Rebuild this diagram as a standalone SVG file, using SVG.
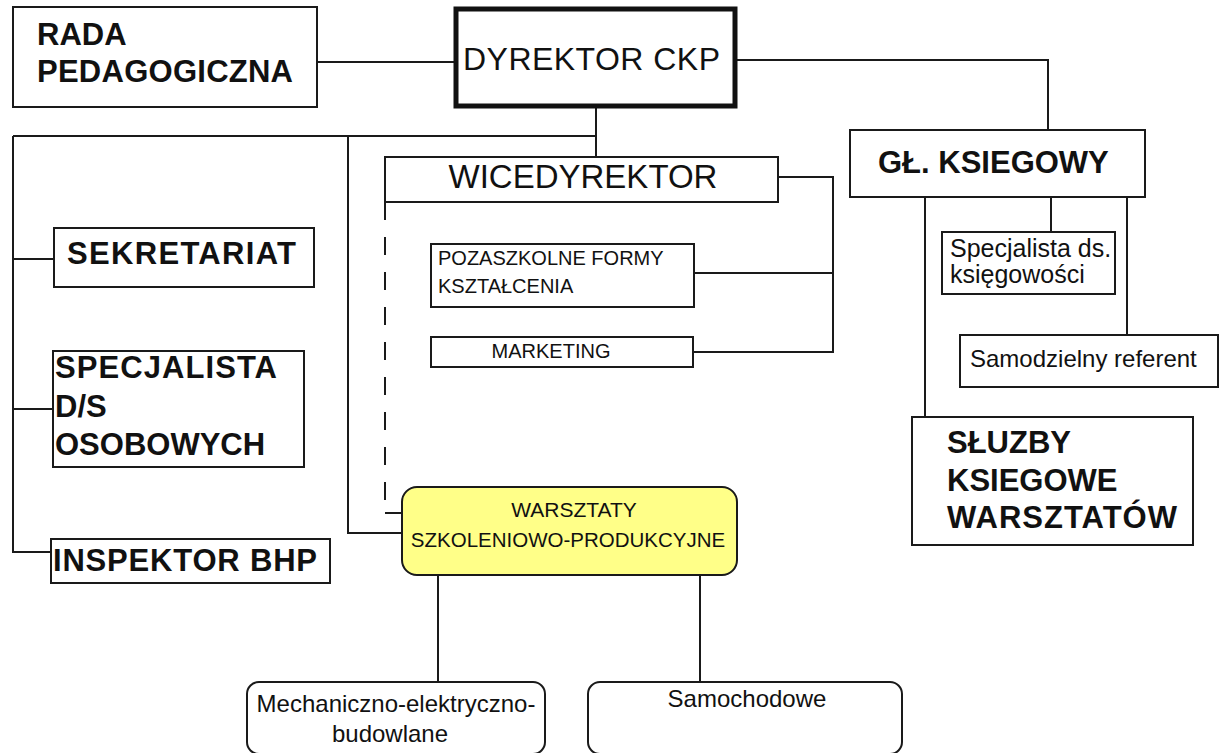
<svg xmlns="http://www.w3.org/2000/svg" width="1229" height="753" viewBox="0 0 1229 753">
<style>
.box{fill:#fff;stroke:#1a1a1a;stroke-width:2}
.thick{fill:#fff;stroke:#111;stroke-width:5}
.rnd{fill:#fff;stroke:#1a1a1a;stroke-width:2}
.yel{fill:#ffff88;stroke:#1a1a1a;stroke-width:2}
.ln{fill:none;stroke:#1a1a1a;stroke-width:2}
.dash{fill:none;stroke:#1a1a1a;stroke-width:2;stroke-dasharray:18 17}
text{font-family:"Liberation Sans",Arial,sans-serif;fill:#111}
.b{font-weight:bold;font-size:31px}
.big{font-size:32px}
.m{font-size:20px}
.s{font-size:24px}
</style>
<rect width="1229" height="753" fill="#fff"/>
<g id="connectors">
<path class="ln" d="M317 62H454"/>
<path class="ln" d="M737 60H1048V130"/>
<path class="ln" d="M596 107V157"/>
<path class="ln" d="M13 136H596"/>
<path class="ln" d="M13 136V552H51"/>
<path class="ln" d="M13 259H54"/>
<path class="ln" d="M13 409H53"/>
<path class="ln" d="M348 136V533H402"/>
<path class="dash" d="M385 202V513"/>
<path class="ln" d="M385 513H402"/>
<path class="ln" d="M778 177H833V352H693"/>
<path class="ln" d="M694 273H833"/>
<path class="ln" d="M925 197V417"/>
<path class="ln" d="M1051 197V232"/>
<path class="ln" d="M1127 197V335"/>
<path class="ln" d="M438 575V682"/>
<path class="ln" d="M700 575V682"/>
</g>
<g id="rada">
<rect class="box" x="13" y="7" width="304" height="100"/>
<text class="b" x="37" y="45">RADA</text>
<text class="b" x="37" y="82" textLength="256">PEDAGOGICZNA</text>
</g>
<g id="dyrektor">
<rect class="thick" x="456" y="9" width="279" height="97"/>
<text class="big" x="463" y="70" textLength="257">DYREKTOR CKP</text>
</g>
<g id="wicedyrektor">
<rect class="box" x="385" y="157" width="393" height="45"/>
<text x="583" y="188" font-size="33" text-anchor="middle">WICEDYREKTOR</text>
</g>
<g id="ksiegowy">
<rect class="box" x="850" y="130" width="295" height="67"/>
<text class="b" x="878" y="173">GŁ. KSIEGOWY</text>
</g>
<g id="sekretariat">
<rect class="box" x="54" y="228" width="260" height="59"/>
<text class="b" x="67" y="264" textLength="229">SEKRETARIAT</text>
</g>
<g id="specjalista-os">
<rect class="box" x="53" y="351" width="251" height="116"/>
<text class="b" x="55" y="378" textLength="222">SPECJALISTA</text>
<text class="b" x="55" y="417">D/S</text>
<text class="b" x="55" y="455">OSOBOWYCH</text>
</g>
<g id="inspektor">
<rect class="box" x="51" y="539" width="279" height="44"/>
<text class="b" x="53" y="571" font-size="32" textLength="264">INSPEKTOR BHP</text>
</g>
<g id="pozaszkolne">
<rect class="box" x="431" y="244" width="263" height="63"/>
<text class="m" x="438" y="265">POZASZKOLNE FORMY</text>
<text class="m" x="438" y="293">KSZTAŁCENIA</text>
</g>
<g id="marketing">
<rect class="box" x="431" y="337" width="262" height="30"/>
<text class="m" x="551" y="358" text-anchor="middle">MARKETING</text>
</g>
<g id="specjalista-ksieg">
<rect class="box" x="942" y="232" width="173" height="62"/>
<text x="950" y="257" font-size="25">Specjalista ds.</text>
<text x="950" y="283" font-size="25">księgowości</text>
</g>
<g id="samodzielny">
<rect class="box" x="960" y="335" width="258" height="52"/>
<text class="s" x="970" y="367">Samodzielny referent</text>
</g>
<g id="sluzby">
<rect class="box" x="912" y="417" width="281" height="128"/>
<text class="b" x="947" y="453">SŁUZBY</text>
<text class="b" x="947" y="491">KSIEGOWE</text>
<text class="b" x="947" y="528" textLength="230">WARSZTATÓW</text>
</g>
<g id="warsztaty">
<rect class="yel" x="402" y="487" width="335" height="88" rx="15"/>
<text x="574" y="517" font-size="21" text-anchor="middle">WARSZTATY</text>
<text x="568" y="547" font-size="20.5" text-anchor="middle">SZKOLENIOWO-PRODUKCYJNE</text>
</g>
<g id="mechaniczno">
<rect class="rnd" x="247" y="682" width="298" height="72" rx="12"/>
<text class="s" x="396" y="712" text-anchor="middle">Mechaniczno-elektryczno-</text>
<text class="s" x="390" y="742" text-anchor="middle">budowlane</text>
</g>
<g id="samochodowe">
<rect class="rnd" x="588" y="682" width="314" height="72" rx="12"/>
<text class="s" x="747" y="707" text-anchor="middle">Samochodowe</text>
</g>
</svg>
